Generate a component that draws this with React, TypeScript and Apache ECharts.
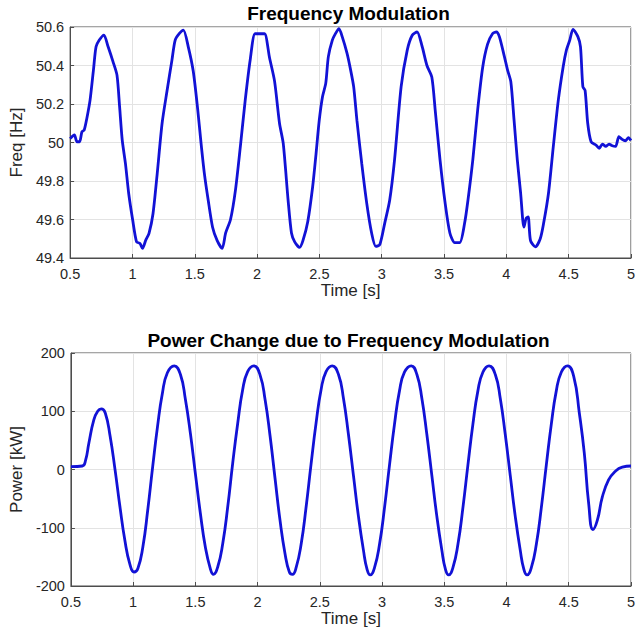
import React, { useEffect, useRef } from "react";
import * as echarts from "echarts";

const xTicks = [0.5, 1, 1.5, 2, 2.5, 3, 3.5, 4, 4.5, 5];

const freqTime = [
  0.5, 0.534, 0.555, 0.576, 0.595, 0.613, 0.634, 0.66, 0.687, 0.708, 0.734, 0.771, 0.805, 0.844, 0.876, 0.897, 0.918, 0.944,
  0.97, 1.002, 1.033, 1.06, 1.081, 1.107, 1.133, 1.165, 1.199, 1.238, 1.278, 1.317, 1.343, 1.377, 1.409, 1.448, 1.488, 1.524,
  1.55, 1.577, 1.608, 1.643, 1.68, 1.72, 1.748, 1.787, 1.826, 1.866, 1.905, 1.945, 1.984, 2.024, 2.06, 2.1, 2.14, 2.18, 2.21,
  2.249, 2.276, 2.302, 2.341, 2.368, 2.407, 2.446, 2.473, 2.499, 2.525, 2.551, 2.572, 2.604, 2.63, 2.657, 2.683, 2.722, 2.748,
  2.775, 2.801, 2.84, 2.88, 2.919, 2.953, 2.985, 3.024, 3.064, 3.103, 3.156, 3.205, 3.245, 3.284, 3.324, 3.363, 3.402, 3.429,
  3.468, 3.508, 3.547, 3.586, 3.626, 3.665, 3.692, 3.731, 3.77, 3.81, 3.849, 3.889, 3.92, 3.944, 3.983, 4.01, 4.036, 4.062,
  4.088, 4.115, 4.141, 4.159, 4.175, 4.194, 4.233, 4.272, 4.299, 4.338, 4.377, 4.417, 4.456, 4.482, 4.509, 4.535, 4.574, 4.595,
  4.614, 4.632, 4.653, 4.68, 4.719, 4.745, 4.771, 4.798, 4.824, 4.85, 4.877, 4.903, 4.929, 4.955, 4.98, 5.0,
];
const freqValue = [
  50.02, 50.039, 50.004, 50.004, 50.056, 50.065, 50.125, 50.22, 50.376, 50.497, 50.532, 50.558, 50.497, 50.42, 50.35, 50.186, 50.013, 49.89,
  49.735, 49.597, 49.484, 49.476, 49.45, 49.493, 49.528, 49.63, 49.84, 50.1, 50.27, 50.428, 50.532, 50.567, 50.584, 50.497, 50.37, 50.17,
  50.0, 49.84, 49.7, 49.56, 49.49, 49.45, 49.53, 49.6, 49.75, 49.98, 50.22, 50.43, 50.565, 50.565, 50.565, 50.44, 50.32, 50.1, 49.995,
  49.7, 49.53, 49.484, 49.455, 49.49, 49.59, 49.77, 49.94, 50.116, 50.238, 50.307, 50.446, 50.532, 50.567, 50.592, 50.55, 50.463, 50.385,
  50.29, 50.116, 49.89, 49.684, 49.53, 49.46, 49.47, 49.58, 49.7, 49.91, 50.29, 50.48, 50.557, 50.574, 50.5, 50.4, 50.34, 50.17,
  49.91, 49.69, 49.53, 49.48, 49.48, 49.58, 49.7, 49.91, 50.17, 50.39, 50.51, 50.565, 50.574, 50.55, 50.45, 50.376, 50.316, 50.116,
  49.91, 49.735, 49.56, 49.606, 49.614, 49.49, 49.458, 49.5, 49.58, 49.735, 49.98, 50.22, 50.394, 50.48, 50.532, 50.588, 50.55, 50.497,
  50.29, 50.27, 50.1, 50.004, 49.987, 49.97, 49.992, 49.98, 49.992, 49.983, 49.98, 50.03, 50.016, 50.009, 50.025, 50.01,
];

const powerTime = [
  0.5, 0.592, 0.618, 0.644, 0.684, 0.715, 0.744, 0.776, 0.815, 0.855, 0.894, 0.933, 0.973, 1.007, 1.038, 1.078, 1.117, 1.157,
  1.196, 1.235, 1.275, 1.33, 1.38, 1.42, 1.46, 1.5, 1.54, 1.58, 1.62, 1.645, 1.68, 1.72, 1.76, 1.8, 1.84, 1.88, 1.92,
  1.97, 2.02, 2.06, 2.1, 2.14, 2.18, 2.22, 2.255, 2.28, 2.31, 2.35, 2.39, 2.43, 2.47, 2.51, 2.55, 2.6, 2.65, 2.69, 2.73, 2.77,
  2.81, 2.85, 2.88, 2.905, 2.94, 2.98, 3.02, 3.06, 3.1, 3.14, 3.18, 3.235, 3.28, 3.32, 3.36, 3.4, 3.44, 3.48, 3.51, 3.535,
  3.57, 3.61, 3.65, 3.69, 3.73, 3.77, 3.81, 3.86, 3.91, 3.95, 3.99, 4.03, 4.07, 4.11, 4.14, 4.165, 4.2, 4.24, 4.28, 4.32, 4.36,
  4.4, 4.44, 4.49, 4.54, 4.585, 4.625, 4.66, 4.695, 4.73, 4.77, 4.82, 4.87, 4.93, 5.0,
];
const powerValue = [
  5, 6, 16, 45, 85, 100, 104, 97, 57, -1, -64, -121, -162, -176, -170, -133, -70, 5,
  74, 131, 166, 178, 163, 120, 62, -7, -75, -133, -170, -180, -167, -127, -64, 11, 79, 137, 168,
  178, 162, 120, 58, -15, -87, -144, -176, -180, -168, -128, -64, 10, 80, 137, 168, 178, 163, 122, 60, -10,
  -80, -138, -172, -181, -168, -128, -65, 8, 78, 135, 167, 178, 163, 122, 60, -10, -80, -138, -172, -181,
  -168, -128, -65, 8, 78, 135, 167, 178, 163, 122, 60, -10, -80, -138, -172, -181, -168, -128, -65, 8, 78,
  135, 167, 178, 160, 97, 28, -58, -103, -87, -47, -18, -4, 4, 6,
];

const FONT = "'Liberation Sans', Arial, Helvetica, sans-serif";
const TXT = "#262626";
const LINE = "#1212d6";
const AX = "#4d4d4d";
const GRIDC = "#e3e3e3";

const L = 63;
const R = 634;
const CX = (L + R) / 2;

const fmt1 = (v: number) => String(parseFloat(v.toFixed(1)));

export default function App() {
  const ref = useRef<HTMLDivElement>(null);
  useEffect(() => {
    if (!ref.current) return;
    const chart = echarts.init(ref.current, null, { renderer: "svg" });
    const xAxisBase = (gridIndex: number) => ({
      type: "value" as const,
      gridIndex,
      min: xTicks[0],
      max: xTicks[xTicks.length - 1],
      interval: 0.5,
      name: "Time [s]",
      nameLocation: "middle" as const,
      nameGap: 24,
      nameTextStyle: { color: TXT, fontFamily: FONT, fontSize: 17 },
      axisLine: { show: true, onZero: false, lineStyle: { color: AX, width: 1 } },
      axisTick: { show: true, inside: true, length: 4, lineStyle: { color: AX } },
      axisLabel: { color: TXT, fontFamily: FONT, fontSize: 14.5, margin: 8, formatter: fmt1 },
      splitLine: { show: true, lineStyle: { color: GRIDC, width: 1 } },
    });
    const yAxisBase = (gridIndex: number, min: number, max: number, interval: number, name: string, formatter?: (v: number) => string) => ({
      type: "value" as const,
      gridIndex,
      min,
      max,
      interval,
      name,
      nameLocation: "middle" as const,
      nameGap: 37,
      nameTextStyle: { color: TXT, fontFamily: FONT, fontSize: 17 },
      axisLine: { show: true, onZero: false, lineStyle: { color: AX, width: 1 } },
      axisTick: { show: true, inside: true, length: 4, lineStyle: { color: AX } },
      axisLabel: { color: TXT, fontFamily: FONT, fontSize: 14.5, margin: 6, formatter },
      splitLine: { show: true, lineStyle: { color: GRIDC, width: 1 } },
    });
    chart.setOption({
      animation: false,
      backgroundColor: "#ffffff",
      grid: [
        { left: L, top: 27, width: R - L, height: 231, show: true, borderColor: AX, borderWidth: 1, backgroundColor: "transparent" },
        { left: L, top: 353, width: R - L, height: 233, show: true, borderColor: AX, borderWidth: 1, backgroundColor: "transparent" },
      ],
      graphic: [
        {
          type: "text",
          x: CX,
          y: 13,
          style: { text: "Frequency Modulation", textAlign: "center", textVerticalAlign: "middle", font: `bold 19px ${FONT}`, fill: "#000" },
        },
        {
          type: "text",
          x: CX,
          y: 340,
          style: { text: "Power Change due to Frequency Modulation", textAlign: "center", textVerticalAlign: "middle", font: `bold 19px ${FONT}`, fill: "#000" },
        },
      ],
      xAxis: [xAxisBase(0), xAxisBase(1)],
      yAxis: [
        yAxisBase(0, 49.4, 50.6, 0.2, "Freq [Hz]", fmt1),
        yAxisBase(1, -200, 200, 100, "Power [kW]"),
      ],
      series: [
        {
          type: "line",
          xAxisIndex: 0,
          yAxisIndex: 0,
          data: freqTime.map((t, i) => [t, freqValue[i]]),
          showSymbol: false,
          smooth: 0.25,
          lineStyle: { color: LINE, width: 2.8 },
        },
        {
          type: "line",
          xAxisIndex: 1,
          yAxisIndex: 1,
          data: powerTime.map((t, i) => [t, powerValue[i]]),
          showSymbol: false,
          smooth: 0.5,
          lineStyle: { color: LINE, width: 2.8 },
        },
      ],
    });
    return () => chart.dispose();
  }, []);
  return (
    <div
      ref={ref}
      style={{ position: "fixed", left: 0, top: 0, width: 638, height: 637, background: "#fff" }}
    />
  );
}
